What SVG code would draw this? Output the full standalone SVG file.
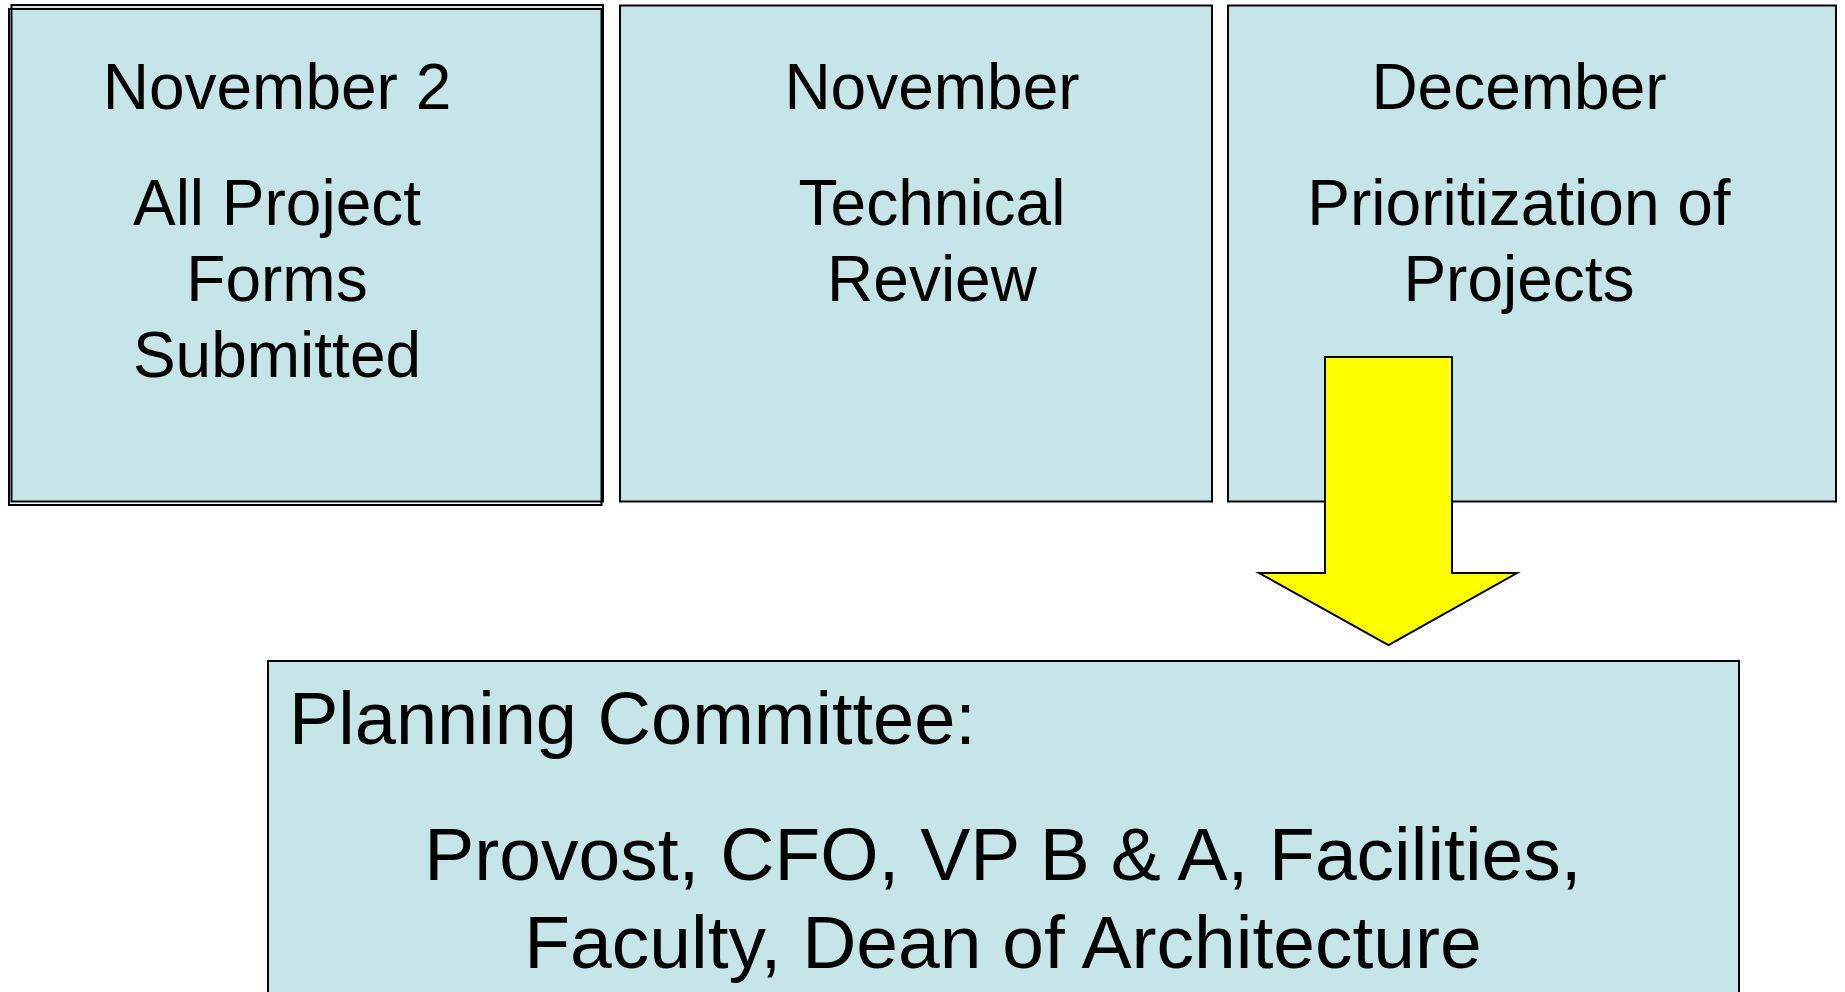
<svg xmlns="http://www.w3.org/2000/svg" width="1845" height="992" viewBox="0 0 1845 992">
<style>
.box{fill:#C5E5E8;stroke:#000;stroke-width:2}
.edge{fill:none;stroke:#000;stroke-width:2}
.t{font-family:"Liberation Sans",Arial,sans-serif;fill:#000;text-anchor:middle}
.s{font-size:64px}
.l{font-size:75px}
</style>
<rect width="1845" height="992" fill="#fff"/>
<g id="box1">
<rect class="box" x="11.5" y="5" width="591.5" height="496.5"/>
<rect class="edge" x="9" y="9" width="592.5" height="496"/>
<text class="t s" x="277" y="109">November 2</text>
<text class="t s" x="277" y="225">All Project</text>
<text class="t s" x="277" y="301">Forms</text>
<text class="t s" x="277" y="377">Submitted</text>
</g>
<g id="box2">
<rect class="box" x="620" y="5.5" width="592" height="496"/>
<text class="t s" x="932" y="109">November</text>
<text class="t s" x="932" y="225">Technical</text>
<text class="t s" x="932" y="301">Review</text>
</g>
<g id="box3">
<rect class="box" x="1228" y="5.5" width="608" height="496"/>
<text class="t s" x="1519" y="109">December</text>
<text class="t s" x="1519" y="225">Prioritization of</text>
<text class="t s" x="1519" y="301">Projects</text>
</g>
<g id="connectors">
<polygon points="1325,357 1452,357 1452,573 1517,573 1388.5,645 1259,573 1325,573" fill="#FFFF00" stroke="#000" stroke-width="2" stroke-linejoin="miter"/>
</g>
<g id="committee">
<rect class="box" x="268" y="661" width="1471" height="340"/>
<text class="t" x="289" y="744" style="text-anchor:start;font-size:74px">Planning Committee:</text>
<text class="t l" x="1003" y="880">Provost, CFO, VP B &amp; A, Facilities,</text>
<text class="t l" x="1003" y="968">Faculty, Dean of Architecture</text>
</g>
</svg>
